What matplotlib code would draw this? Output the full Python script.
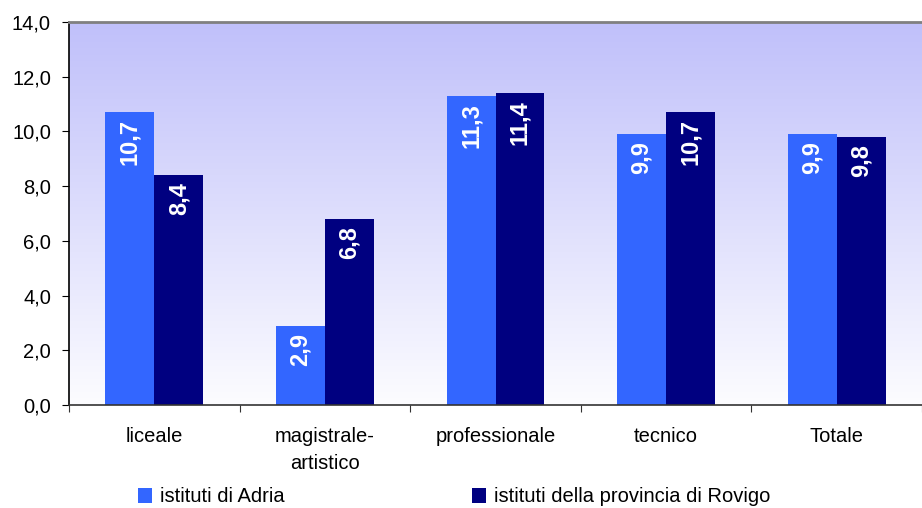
import matplotlib.pyplot as plt
import numpy as np

plt.rcParams['font.family'] = ['Liberation Sans', 'DejaVu Sans']

categories = ["liceale", "magistrale-\nartistico", "professionale", "tecnico", "Totale"]
adria = [10.7, 2.9, 11.3, 9.9, 9.9]
rovigo = [8.4, 6.8, 11.4, 10.7, 9.8]
series_names = ["istituti di Adria", "istituti della provincia di Rovigo"]
yticks = [0, 2, 4, 6, 8, 10, 12, 14]

c_adria = "#3366FF"
c_rovigo = "#000080"

fig = plt.figure(figsize=(9.22, 5.08), dpi=100)
ax = fig.add_axes([69 / 922, 1 - 405 / 508, 1 - 69 / 922, (405 - 22) / 508])

n = len(categories)
x = np.arange(n)
w = 0.287

# gradient background
grad = np.linspace(0, 1, 256).reshape(-1, 1)
top = np.array([192, 192, 250]) / 255
bot = np.array([252, 252, 255]) / 255
img = bot + (top - bot) * grad[:, :, None] * np.ones((1, 1, 3))
ax.imshow(img, extent=[-0.5, n - 0.5, 0, 14], origin="lower", aspect="auto", zorder=0)

b1 = ax.bar(x - w / 2, adria, w, color=c_adria, zorder=2, label=series_names[0])
b2 = ax.bar(x + w / 2, rovigo, w, color=c_rovigo, zorder=2, label=series_names[1])

for bars, vals in ((b1, adria), (b2, rovigo)):
    for b, v in zip(bars, vals):
        ax.annotate(f"{v:.1f}".replace(".", ","), (b.get_x() + b.get_width() / 2, v),
                    xytext=(0, -5), textcoords="offset points", rotation=90,
                    ha="center", va="top", color="white", fontsize=17, fontweight="bold",
                    zorder=3)

ax.set_xlim(-0.5, n - 0.5)
ax.set_ylim(0, 14)
ax.set_yticks(yticks)
ax.set_yticklabels([f"{t:.1f}".replace(".", ",") for t in yticks], fontsize=14.5)
ax.set_xticks(np.arange(n + 1) - 0.5, minor=False)
ax.set_xticklabels([])
ax.set_xticks(x, minor=True)
ax.set_xticklabels(categories, minor=True, fontsize=14.5, linespacing=1.55)
ax.tick_params(axis="x", which="minor", length=0, pad=16)
ax.tick_params(axis="x", which="major", length=5, direction="out", color="#333333")
ax.tick_params(axis="y", length=5, direction="out", pad=8)

ax.spines["right"].set_visible(False)
ax.spines["top"].set_color("#808080")
ax.spines["top"].set_linewidth(2)
ax.spines["left"].set_color("#000000")
ax.spines["left"].set_linewidth(1.2)
ax.spines["bottom"].set_color("#333333")
ax.spines["bottom"].set_linewidth(1.2)

fig.legend(handles=[b1, b2], loc="center left", bbox_to_anchor=(138 / 922, 1 - 497 / 508),
           ncol=2, frameon=False, fontsize=14.5, handlelength=0.7, handleheight=0.7,
           handletextpad=0.4, columnspacing=9.3, borderaxespad=0, borderpad=0)

fig.savefig("out.png", dpi=100)
